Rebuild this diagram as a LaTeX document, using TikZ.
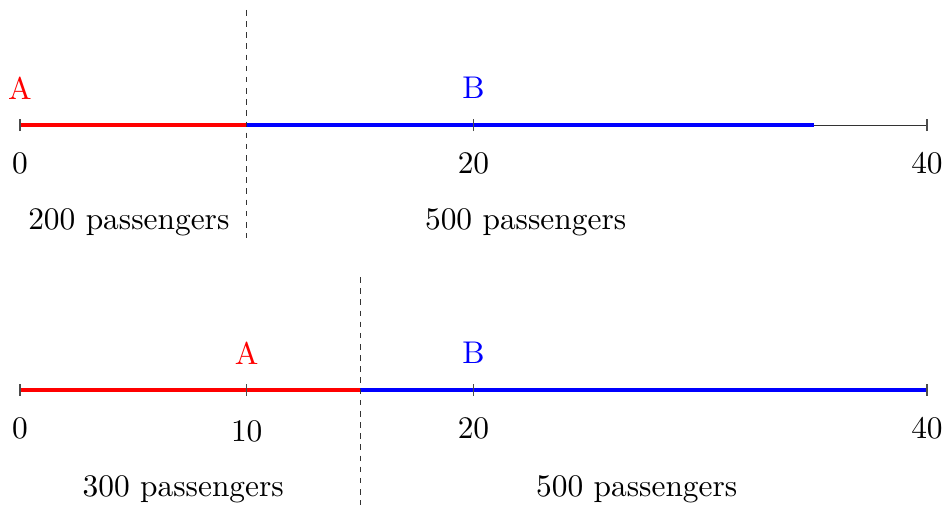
\documentclass[tikz,border=0pt]{standalone}
\usepackage{xcolor}
\usetikzlibrary{math}
\tikzset{
  axisline/.style={line width=0.7pt, black!80},
  tickmark/.style={line width=0.7pt, black!70},
  seg/.style={line width=2.2pt},
  cutline/.style={dashed, dash pattern=on 3.5pt off 3.5pt, line width=0.6pt, black!80},
  lbl/.style={font=\fontsize{10}{12}\selectfont, inner sep=0pt, scale=1.97, transform shape}
}

\begin{document}
\begin{tikzpicture}[x=0.5cm,y=1cm]
\tikzmath{
\yt=8.42;
\yb=2.58;
}
\useasboundingbox (-0.882,0) rectangle (40.84,11.18);

% first split
\coordinate (T0) at (0,\yt);
\coordinate (T10) at (10,\yt);
\coordinate (T35) at (35,\yt);
\coordinate (T40) at (40,\yt);
\draw[axisline] (T0) -- (T40);
\draw[seg,red] (T0) -- (T10);
\draw[seg,blue] (T10) -- (T35);
\foreach \x in {0,20,40}
  \draw[tickmark] (\x,\yt) ++(0,-0.13) -- ++(0,0.26);

\node[lbl] (t0) at (0,\yt-0.84) {0};
\node[lbl] (t20) at (20,\yt-0.84) {20};
\node[lbl] (t40) at (40,\yt-0.84) {40};
\node[lbl,red] (tA) at (0,\yt+0.82) {A};
\node[lbl,blue] (tB) at (20,\yt+0.82) {B};
\node[lbl] (tpA) at (4.8,\yt-2.14) {200 passengers};
\node[lbl] (tpB) at (22.3,\yt-2.14) {500 passengers};

\coordinate (tcutU) at (10,\yt+2.54);
\coordinate (tcutD) at (10,\yt-2.49);
\draw[cutline] (tcutU) -- (tcutD);

% second split
\coordinate (B0) at (0,\yb);
\coordinate (B15) at (15,\yb);
\coordinate (B40) at (40,\yb);
\draw[seg,red] (B0) -- (B15);
\draw[seg,blue] (B15) -- (B40);
\foreach \x in {0,10,20,40}
  \draw[tickmark] (\x,\yb) ++(0,-0.13) -- ++(0,0.26);

\node[lbl] (b0) at (0,\yb-0.84) {0};
\node[lbl] (b10) at (10,\yb-0.92) {10};
\node[lbl] (b20) at (20,\yb-0.84) {20};
\node[lbl] (b40) at (40,\yb-0.84) {40};
\node[lbl,red] (bA) at (10,\yb+0.82) {A};
\node[lbl,blue] (bB) at (20,\yb+0.82) {B};
\node[lbl] (bpA) at (7.2,\yb-2.2) {300 passengers};
\node[lbl] (bpB) at (27.2,\yb-2.2) {500 passengers};

\coordinate (bcutU) at (15,\yb+2.49);
\coordinate (bcutD) at (15,\yb-2.54);
\draw[cutline] (bcutU) -- (bcutD);

\end{tikzpicture}
\end{document}
